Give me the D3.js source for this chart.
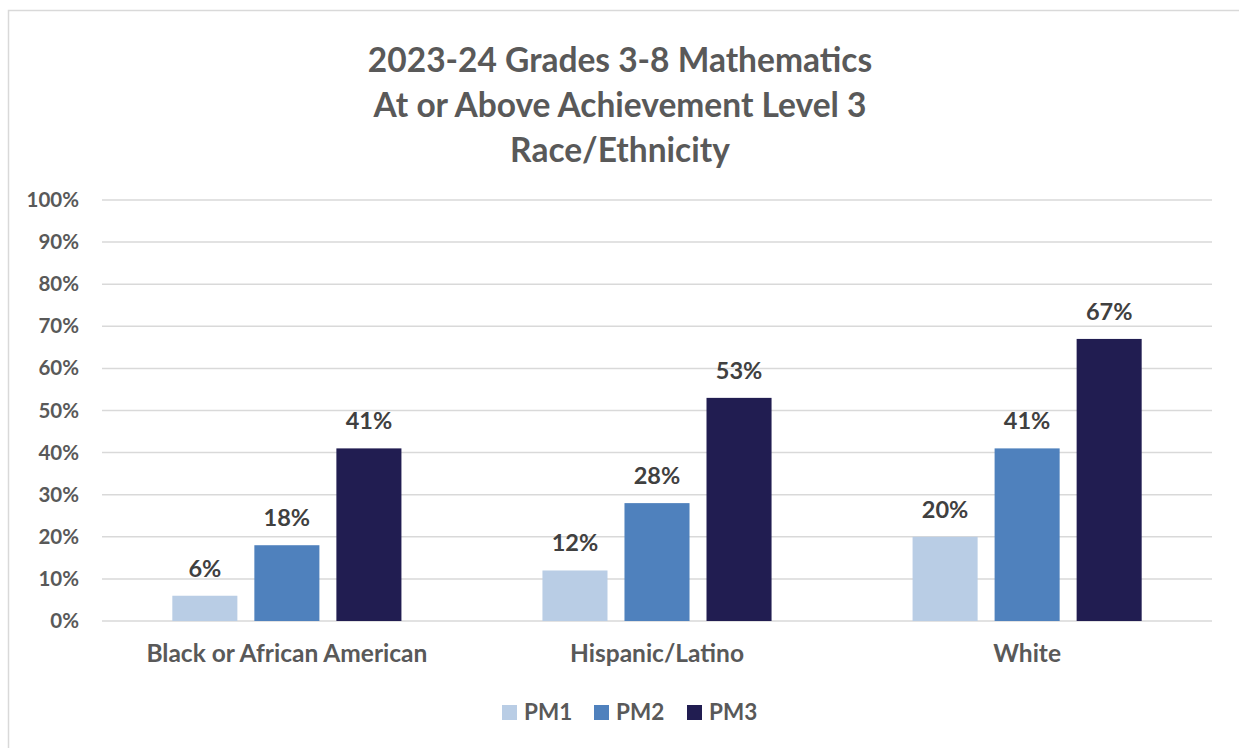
<!DOCTYPE html>
<html>
<head>
<meta charset="utf-8">
<script src="https://cdn.jsdelivr.net/npm/d3@7"></script>
<style>
  body { margin: 0; background: #fff; }
  text { font-family: Lato, "Open Sans", sans-serif; font-weight: bold; }
</style>
</head>
<body>
<div id="chart"></div>
<script>
// data
var titleLines = ['2023-24 Grades 3-8 Mathematics', 'At or Above Achievement Level 3', 'Race/Ethnicity'];
var categories = ['Black or African American', 'Hispanic/Latino', 'White'];
var seriesNames = ['PM1', 'PM2', 'PM3'];
var pm1 = [6, 12, 20];
var pm2 = [18, 28, 41];
var pm3 = [41, 53, 67];
var yTicks = [0, 10, 20, 30, 40, 50, 60, 70, 80, 90, 100];
var colors = ['#b9cde5', '#4f81bd', '#211d51'];

var W = 1239, H = 748;
var margin = { top: 200, right: 27, bottom: 127, left: 102 };
var width = W - margin.left - margin.right,
    height = H - margin.top - margin.bottom;

var svg = d3.select('#chart').append('svg')
    .attr('width', W)
    .attr('height', H);

// outer chart border (right and bottom edges fall outside the picture)
svg.append('rect')
    .attr('x', 8.5).attr('y', 10.5)
    .attr('width', W + 20).attr('height', H + 20)
    .attr('fill', 'none')
    .attr('stroke', '#d9d9d9')
    .attr('stroke-width', 1.5);

svg.append('g').selectAll('text')
    .data(titleLines)
    .enter().append('text')
    .attr('x', 620)
    .attr('y', function (d, i) { return 72 + i * 45; })
    .attr('text-anchor', 'middle')
    .attr('fill', '#595959')
    .style('font-size', '33.5px')
    .text(function (d) { return d; });

var g = svg.append('g')
    .attr('transform', 'translate(' + margin.left + ',' + margin.top + ')');

var data = categories.map(function (c, i) {
    return { cat: c, vals: [pm1[i], pm2[i], pm3[i]] };
});

var x0 = d3.scaleBand().domain(categories).range([0, width])
    .paddingInner(0.381).paddingOuter(0.19);
var x1 = d3.scaleBand().domain(seriesNames).range([0, x0.bandwidth()])
    .paddingInner(0.207);
var y = d3.scaleLinear().domain([0, 100]).range([height, 0]);

// gridlines
g.append('g').selectAll('line')
    .data(yTicks)
    .enter().append('line')
    .attr('x1', 0).attr('x2', width)
    .attr('y1', function (d) { return y(d); })
    .attr('y2', function (d) { return y(d); })
    .attr('stroke', '#d9d9d9')
    .attr('stroke-width', 1.5);

var yAxis = d3.axisLeft(y).tickValues(yTicks)
    .tickFormat(function (d) { return d + '%'; })
    .tickSize(0).tickPadding(23);
var ya = g.append('g').call(yAxis);
ya.select('.domain').remove();
ya.selectAll('text').attr('fill', '#595959').style('font-size', '20.5px');

var groups = g.selectAll('.grp')
    .data(data)
    .enter().append('g')
    .attr('class', 'grp')
    .attr('transform', function (d) { return 'translate(' + x0(d.cat) + ',0)'; });

groups.selectAll('rect')
    .data(function (d) { return d.vals.map(function (v, i) { return { s: seriesNames[i], v: v, i: i }; }); })
    .enter().append('rect')
    .attr('x', function (d) { return x1(d.s); })
    .attr('width', x1.bandwidth())
    .attr('y', function (d) { return y(d.v); })
    .attr('height', function (d) { return height - y(d.v); })
    .attr('fill', function (d) { return colors[d.i]; });

groups.selectAll('.lbl')
    .data(function (d) { return d.vals.map(function (v, i) { return { s: seriesNames[i], v: v }; }); })
    .enter().append('text')
    .attr('class', 'lbl')
    .attr('x', function (d) { return x1(d.s) + x1.bandwidth() / 2; })
    .attr('y', function (d) { return y(d.v) - 19; })
    .attr('text-anchor', 'middle')
    .attr('fill', '#404040')
    .style('font-size', '23.5px')
    .text(function (d) { return d.v + '%'; });

var xAxis = d3.axisBottom(x0).tickSize(0).tickPadding(24);
var xa = g.append('g').attr('transform', 'translate(0,' + height + ')').call(xAxis);
xa.select('.domain').remove();
xa.selectAll('text').attr('fill', '#595959').style('font-size', '24.5px');

// legend
var legX = [502, 594, 687];
var leg = svg.append('g').selectAll('g')
    .data(seriesNames)
    .enter().append('g')
    .attr('transform', function (d, i) { return 'translate(' + legX[i] + ',705)'; });
leg.append('rect')
    .attr('width', 15).attr('height', 15)
    .attr('fill', function (d, i) { return colors[i]; });
leg.append('text')
    .attr('x', 22).attr('y', 15)
    .attr('fill', '#595959')
    .style('font-size', '22.5px')
    .text(function (d) { return d; });
</script>
</body>
</html>
